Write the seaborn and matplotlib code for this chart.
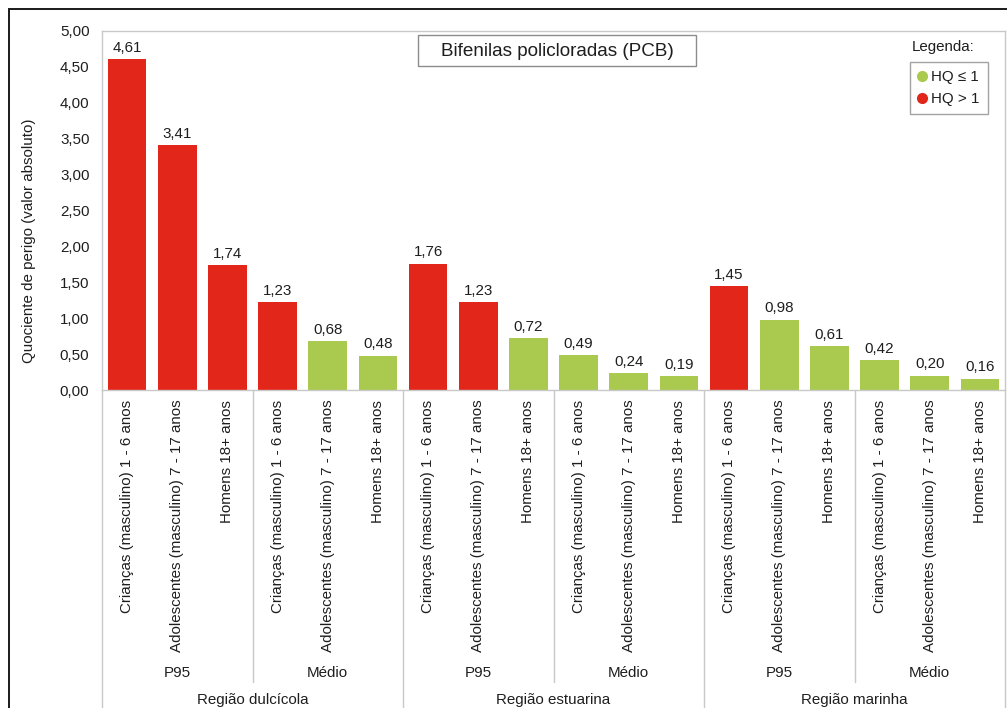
import matplotlib
matplotlib.use("Agg")
import matplotlib.pyplot as plt
import matplotlib.transforms as mtransforms
from matplotlib.lines import Line2D
from matplotlib.patches import Rectangle
import pandas as pd
import seaborn as sns

# ---- data -------------------------------------------------------------
regioes = ["Região dulcícola", "Região estuarina", "Região marinha"]
estatisticas = ["P95", "Médio"]
grupos = [
    "Crianças (masculino) 1 - 6 anos",
    "Adolescentes (masculino) 7 - 17 anos",
    "Homens 18+ anos",
]
# hazard quotients per region: P95 (3 groups) then mean (3 groups)
hq_dulcicola = [4.61, 3.41, 1.74, 1.23, 0.68, 0.48]
hq_estuarina = [1.76, 1.23, 0.72, 0.49, 0.24, 0.19]
hq_marinha = [1.45, 0.98, 0.61, 0.42, 0.20, 0.16]
y_ticks = [0.0, 0.5, 1.0, 1.5, 2.0, 2.5, 3.0, 3.5, 4.0, 4.5, 5.0]
classes = ["HQ ≤ 1", "HQ > 1"]
titulo = "Bifenilas policloradas (PCB)"
titulo_legenda = "Legenda:"
rotulo_y = "Quociente de perigo (valor absoluto)"

VERDE = "#a9c94f"
VERMELHO = "#e3261a"
CINZA = "#c8c8c8"
TEXTO = "#1e1e1e"
FS = 10.9

rows = []
for regiao, valores in zip(regioes, [hq_dulcicola, hq_estuarina, hq_marinha]):
    k = 0
    for est in estatisticas:
        for grupo in grupos:
            v = valores[k]
            rows.append({
                "chave": f"{regiao}|{est}|{grupo}",
                "regiao": regiao, "estat": est, "grupo": grupo,
                "hq": v, "classe": classes[1] if v > 1 else classes[0],
            })
            k += 1
df = pd.DataFrame(rows)

# ---- style ------------------------------------------------------------
sns.set_theme(style="white")
plt.rcParams["font.family"] = ["Liberation Sans", "DejaVu Sans"]
plt.rcParams["text.color"] = TEXTO
plt.rcParams["axes.labelcolor"] = TEXTO
plt.rcParams["xtick.color"] = TEXTO
plt.rcParams["ytick.color"] = TEXTO

W, H = 1007, 708
fig = plt.figure(figsize=(W / 100, H / 100), dpi=100)
x0, x1, y_top, y_base = 102, 1005, 31, 390
ax = fig.add_axes([x0 / W, 1 - y_base / H, (x1 - x0) / W, (y_base - y_top) / H])

sns.barplot(
    data=df, x="chave", y="hq", hue="classe", order=list(df["chave"]),
    hue_order=classes, palette={classes[0]: VERDE, classes[1]: VERMELHO},
    dodge=False, width=0.77, saturation=1, errorbar=None, legend=False,
    linewidth=0, ax=ax,
)

for cont in ax.containers:
    ax.bar_label(cont, fmt=lambda v: f"{v:.2f}".replace(".", ","),
                 padding=3, fontsize=FS, color=TEXTO)

ax.set_xlim(-0.5, len(df) - 0.5)
ax.set_ylim(0, 5)
ax.set_yticks(y_ticks)
ax.set_yticklabels([f"{t:.2f}".replace(".", ",") for t in y_ticks], fontsize=FS)
ax.set_xticks(range(len(df)))
ax.set_xticklabels(df["grupo"], rotation=90, fontsize=FS, va="top", ha="center")
ax.tick_params(axis="both", length=0)
ax.tick_params(axis="y", pad=9)
ax.tick_params(axis="x", pad=7)
ax.set_xlabel("")
ax.set_ylabel("")
for s in ax.spines.values():
    s.set_color(CINZA)
    s.set_linewidth(1.0)

# ---- hierarchical category axis ---------------------------------------
tr = mtransforms.blended_transform_factory(ax.transData, fig.transFigure)
fy = lambda py: 1 - py / H

n_g = len(grupos)
n_reg = len(estatisticas) * n_g
for r, regiao in enumerate(regioes):
    for e, est in enumerate(estatisticas):
        centro = r * n_reg + e * n_g + (n_g - 1) / 2
        ax.text(centro, fy(673), est, transform=tr, ha="center", va="center",
                fontsize=FS, clip_on=False)
    ax.text(r * n_reg + (n_reg - 1) / 2, fy(700), regiao, transform=tr,
            ha="center", va="center", fontsize=FS, clip_on=False)

# short separators between P95 and mean, long ones between regions
for r in range(len(regioes)):
    xs = r * n_reg + n_g - 0.5
    ax.add_line(Line2D([xs, xs], [fy(y_base), fy(682)], transform=tr,
                       color=CINZA, lw=1.0, clip_on=False))
for xs in [-0.5] + [r * n_reg + n_reg - 0.5 for r in range(len(regioes))]:
    ax.add_line(Line2D([xs, xs], [fy(y_base), fy(H + 5)], transform=tr,
                       color=CINZA, lw=1.0, clip_on=False))

# ---- y label, title box, legend ---------------------------------------
fig.text(29 / W, fy(241), rotulo_y, rotation=90,
         ha="center", va="center", fontsize=FS)

fig.patches.append(Rectangle((418 / W, fy(66)), (696 - 418) / W, (66 - 35) / H,
                             transform=fig.transFigure, fill=False,
                             edgecolor="#8c8c8c", lw=1.0))
fig.text(557 / W, fy(51), titulo, ha="center", va="center", fontsize=13.6)

fig.text(943 / W, fy(47), titulo_legenda, ha="center", va="center", fontsize=FS)
handles = [
    Line2D([], [], ls="", marker="o", markersize=7,
           markerfacecolor=VERDE, markeredgecolor=VERDE, label=classes[0]),
    Line2D([], [], ls="", marker="o", markersize=7,
           markerfacecolor=VERMELHO, markeredgecolor=VERMELHO, label=classes[1]),
]
leg = ax.legend(handles=handles, loc="upper left",
                bbox_to_anchor=(910 / W, fy(62)), bbox_transform=fig.transFigure,
                frameon=True, fancybox=False, fontsize=FS, handlelength=0.5,
                handletextpad=0.35, borderpad=0.55, labelspacing=0.5,
                borderaxespad=0)
leg.get_frame().set_edgecolor("#8c8c8c")
leg.get_frame().set_linewidth(1.0)

# outer frame of the figure
fig.patches.append(Rectangle((9 / W, -0.05), 1.0, fy(9) + 0.05,
                             transform=fig.transFigure, fill=False,
                             edgecolor="#1a1a1a", lw=1.4))

fig.savefig("out.png", dpi=100)
